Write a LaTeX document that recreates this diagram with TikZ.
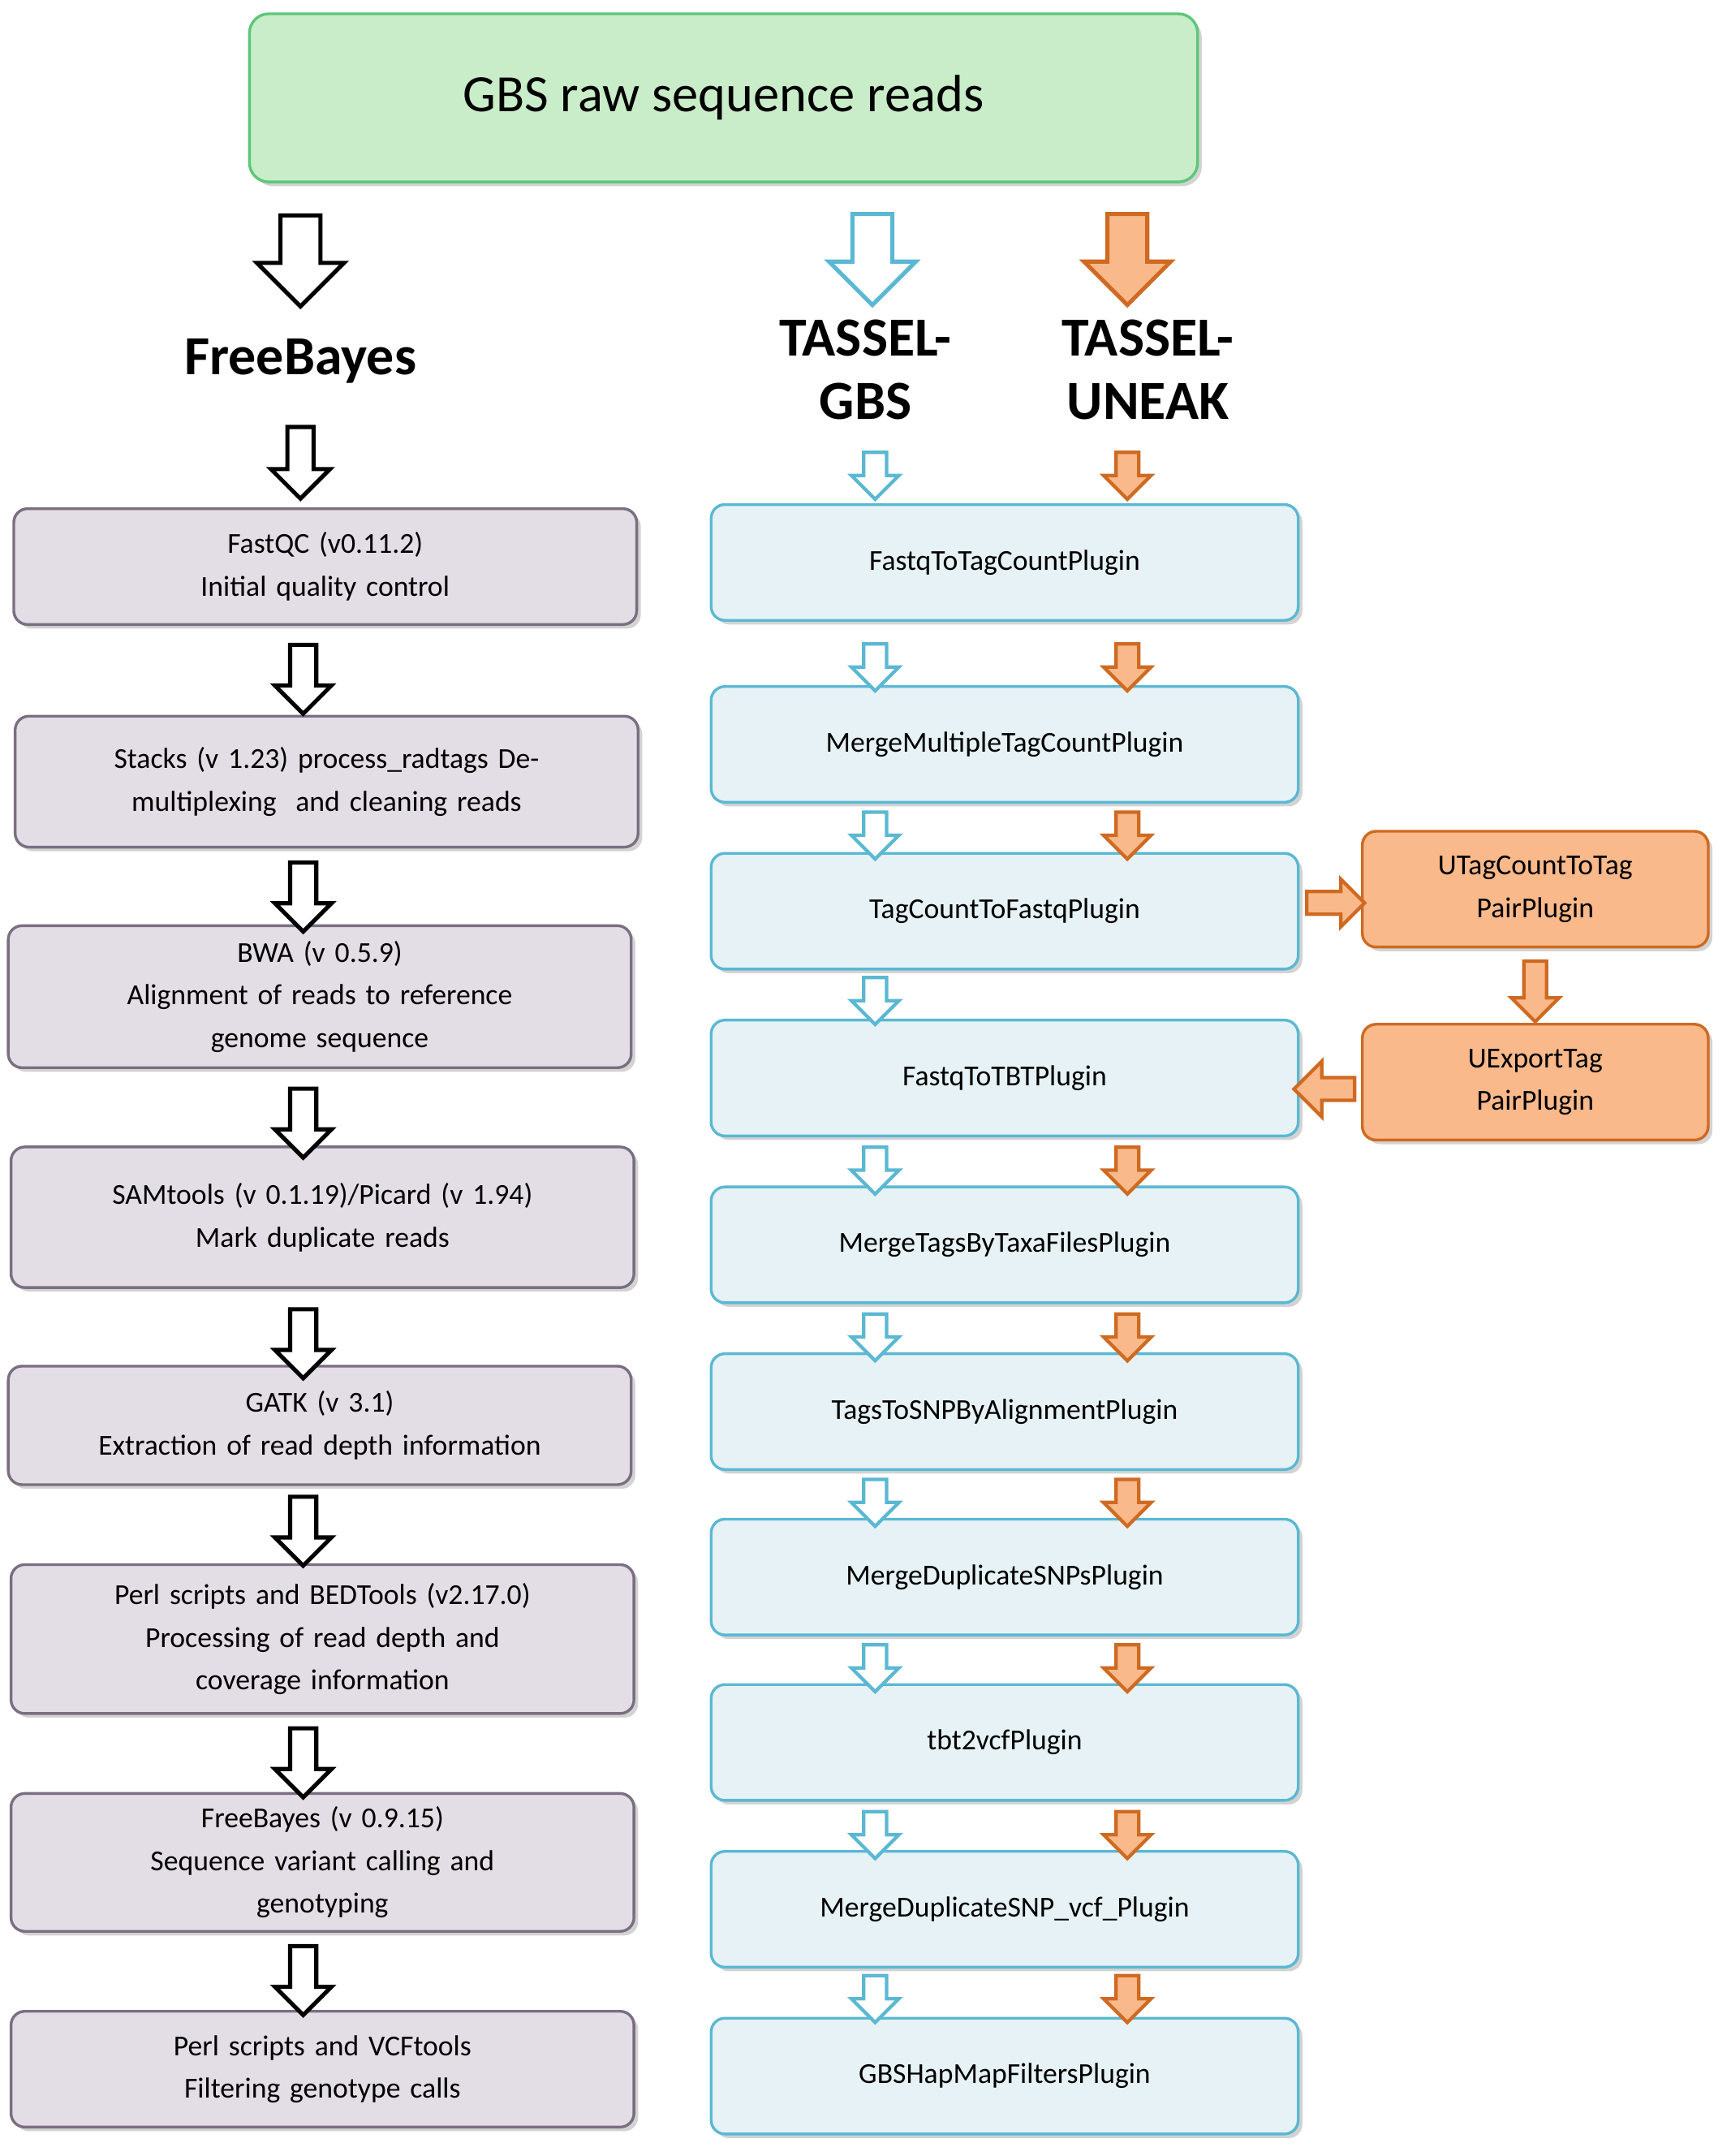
\documentclass[tikz,border=0pt]{standalone}
\usepackage{fontspec}
\setmainfont{Carlito}
\usetikzlibrary{shapes.arrows,shadows}
\definecolor{topfill}{HTML}{C9ECC9}
\definecolor{topline}{HTML}{5CC77A}
\definecolor{lfill}{HTML}{E3DDE6}
\definecolor{lline}{HTML}{7A6F80}
\definecolor{rfill}{HTML}{E6F2F5}
\definecolor{rline}{HTML}{5BB8D3}
\definecolor{ofill}{HTML}{F9B98A}
\definecolor{oline}{HTML}{CF6A22}
\begin{document}
\begin{tikzpicture}[x=1pt, y=-1pt,
  box/.style={draw, rounded corners=10, line width=2, align=center, drop shadow={opacity=.35,shadow xshift=3pt,shadow yshift=-3pt},
    font=\fontsize{21}{31}\selectfont},
  lbox/.style={box, fill=lfill, draw=lline, minimum width=452, text width=440},
  rbox/.style={box, fill=rfill, draw=rline, minimum width=426, minimum height=84},
  obox/.style={box, fill=ofill, draw=oline, minimum width=251, minimum height=84},
  arr/.style={single arrow, inner sep=0, text height=0, text depth=0, rotate=-90},
  bigarr/.style={arr, minimum height=66, inner ysep=13, single arrow head extend=17, line width=3},
  smallarr/.style={arr, minimum height=34, inner ysep=7, single arrow head extend=9, line width=2.5},
  blk/.style={draw=black, fill=white},
  blu/.style={draw=rline, fill=white},
  org/.style={draw=oline, fill=ofill},
  head/.style={font=\fontsize{40}{46}\selectfont\bfseries, align=center}]
  \useasboundingbox (0,0) rectangle (1256,1564);
  % source
  \node[draw=topline, fill=topfill, rounded corners=14, line width=2, minimum width=688, minimum height=122,
    drop shadow={opacity=.35,shadow xshift=3pt,shadow yshift=-3pt}, font=\fontsize{38}{44}\selectfont] (raw) at (525,71) {GBS raw sequence reads};
  \node[bigarr, blk] (a0) at (218,182) {};
  \node[bigarr, blu] (b0) at (633,181) {};
  \node[bigarr, org] (c0) at (818,181) {};
  \node[head] (fb) at (218,262) {FreeBayes};
  \node[head] (tg) at (628,268) {TASSEL-\\GBS};
  \node[head] (tu) at (833,268) {TASSEL-\\UNEAK};
  \node[arr, minimum height=52, inner ysep=8, single arrow head extend=12, line width=3, blk] (a1) at (218,331) {};
  % FreeBayes pipeline
  \node[lbox, minimum height=84] (l1) at (236,411) {FastQC (v0.11.2)\\Initial quality control};
  \node[lbox, minimum height=95] (l2) at (237,567) {Stacks (v 1.23) process\_radtags De-\\multiplexing\ \ and cleaning reads};
  \node[lbox, minimum height=103] (l3) at (232,723) {BWA (v 0.5.9)\\Alignment of reads to reference\\genome sequence};
  \node[lbox, minimum height=102] (l4) at (234,883) {SAMtools (v 0.1.19)/Picard (v 1.94)\\Mark duplicate reads};
  \node[lbox, minimum height=86] (l5) at (232,1034) {GATK (v 3.1)\\Extraction of read depth information};
  \node[lbox, minimum height=108] (l6) at (234,1189) {Perl scripts and BEDTools (v2.17.0)\\Processing of read depth and\\coverage information};
  \node[lbox, minimum height=100] (l7) at (234,1351) {FreeBayes (v 0.9.15)\\Sequence variant calling and\\genotyping};
  \node[lbox, minimum height=84] (l8) at (234,1501) {Perl scripts and VCFtools\\Filtering genotype calls};
  \foreach \y/\n in {488/2,646/3,810/4,970/5,1106/6,1274/7,1432/8}
    \node[arr, minimum height=50, inner ysep=8, single arrow head extend=11, line width=3, blk] (a\n) at (220,\y) {};
  % TASSEL pipelines
  \foreach \y/\t [count=\i] in {408/FastqToTagCountPlugin, 540/MergeMultipleTagCountPlugin,
      661/TagCountToFastqPlugin, 782/FastqToTBTPlugin, 903/MergeTagsByTaxaFilesPlugin,
      1024/TagsToSNPByAlignmentPlugin, 1144/MergeDuplicateSNPsPlugin, 1264/tbt2vcfPlugin,
      1385/MergeDuplicateSNP\_vcf\_Plugin, 1506/GBSHapMapFiltersPlugin}
    \node[rbox] (r\i) at (729,\y) {\t};
  \foreach \y [count=\i] in {341,480,602,722,845,966,1086,1206,1327,1446}
    \node[smallarr, blu] (b\i) at (635,\y) {};
  \foreach \y [count=\i] in {341,480,602,845,966,1086,1206,1327,1446}
    \node[smallarr, org] (c\i) at (818,\y) {};
  % UNEAK branch
  \node[obox] (u1) at (1114,645) {UTagCountToTag\\PairPlugin};
  \node[obox] (u2) at (1114,785) {UExportTag\\PairPlugin};
  \node[smallarr, org, rotate=90, minimum height=42] (ua) at (965,655) {};
  \node[smallarr, org, minimum height=44] (ub) at (1114,715) {};
  \node[smallarr, org, rotate=-90, minimum height=44, single arrow head extend=12] (uc) at (965,790) {};
\end{tikzpicture}
\end{document}
